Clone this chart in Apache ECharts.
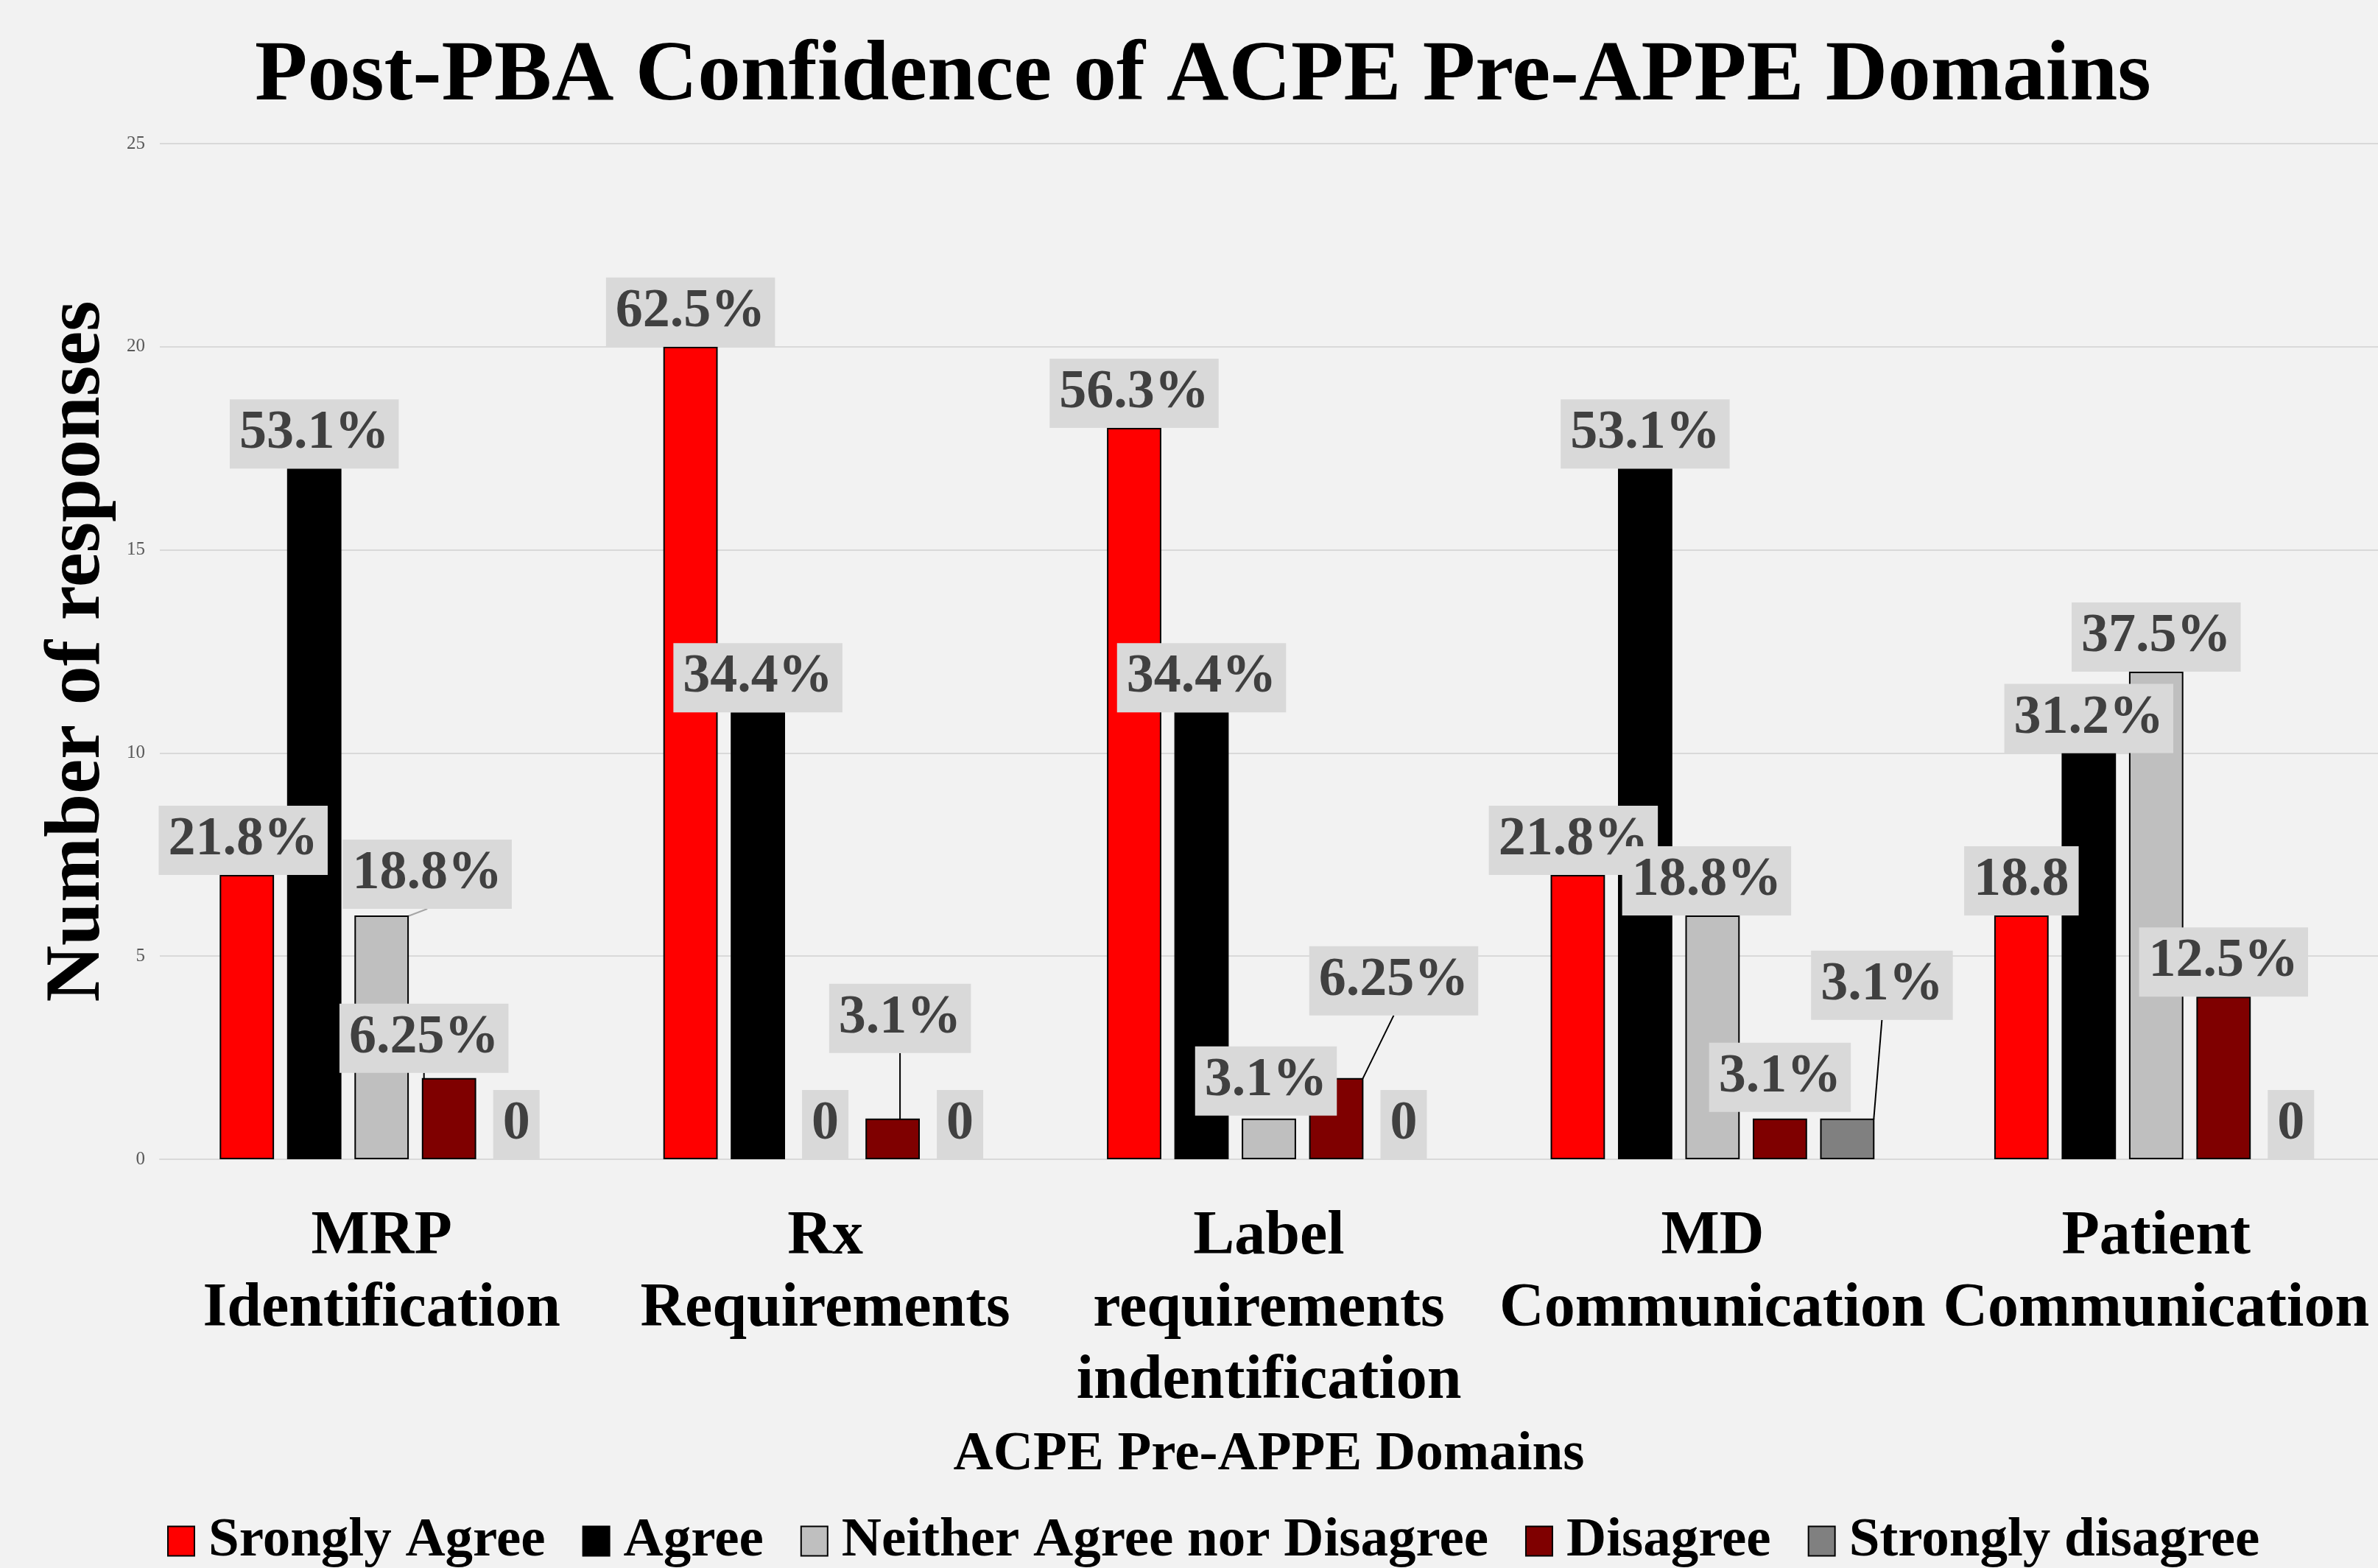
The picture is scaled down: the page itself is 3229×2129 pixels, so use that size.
<!DOCTYPE html>
<html>
<head>
<meta charset="utf-8">
<script src="https://cdn.jsdelivr.net/npm/echarts@6/dist/echarts.min.js"></script>
<style>
  html, body { margin: 0; padding: 0; background: #f2f2f2; }
  #main_chart { width: 3229px; height: 2129px; }
</style>
</head>
<body>
<div id="main_chart"></div>
<script>
// data
var categories = ['MRP\nIdentification', 'Rx\nRequirements', 'Label\nrequirements\nindentification', 'MD\nCommunication', 'Patient\nCommunication'];
var seriesNames = ['Srongly Agree', 'Agree', 'Neither Agree nor Disagree', 'Disagree', 'Strongly disagree'];
var stronglyAgree = [7, 20, 18, 7, 6];
var agree = [17, 11, 11, 17, 10];
var neither = [6, 0, 1, 6, 12];
var disagree = [2, 1, 2, 1, 4];
var stronglyDisagree = [0, 0, 0, 1, 0];
var stronglyAgreeLabels = ['21.8%', '62.5%', '56.3%', '21.8%', '18.8'];
var agreeLabels = ['53.1%', '34.4%', '34.4%', '53.1%', '31.2%'];
var neitherLabels = ['18.8%', '0', '3.1%', '18.8%', '37.5%'];
var disagreeLabels = ['6.25%', '3.1%', '6.25%', '3.1%', '12.5%'];
var stronglyDisagreeLabels = ['0', '0', '0', '3.1%', '0'];

var colors = ['#ff0000', '#000000', '#bfbfbf', '#7f0000', '#808080'];
var lineColors = ['#000', '#000', '#a6a6a6', '#000', '#000'];
var values = [stronglyAgree, agree, neither, disagree, stronglyDisagree];
var texts = [stronglyAgreeLabels, agreeLabels, neitherLabels, disagreeLabels, stronglyDisagreeLabels];

// callouts that were dragged away from their bars: [dx, dy, leader line]
var moved = {
  '0-0': [-5, 0], '0-3': [-6, 0],
  '2-0': [62, -9, true], '2-2': [-4, -4], '2-3': [-8, 0],
  '3-0': [-34, -7, true], '3-1': [10, -89, true], '3-2': [78, -85, true], '3-3': [0, -9],
  '4-3': [47, -134, true]
};

var font = '"Liberation Serif", "Times New Roman", serif';
var chart = echarts.init(document.getElementById('main_chart'));

var series = values.map(function (arr, s) {
  return {
    name: seriesNames[s],
    type: 'bar',
    barGap: '24%',
    barCategoryGap: '27%',
    itemStyle: { color: colors[s], borderColor: '#000', borderWidth: 2 },
    data: arr.map(function (v, i) {
      var m = moved[s + '-' + i];
      var item = { value: v, labelLine: { show: !!(m && m[2]) } };
      if (v === 0) item.itemStyle = { borderWidth: 0 };
      return item;
    }),
    label: {
      show: true,
      position: 'top',
      distance: 0,
      formatter: function (p) { return texts[p.seriesIndex][p.dataIndex]; },
      fontFamily: font,
      fontWeight: 'bold',
      fontSize: 74,
      lineHeight: 74,
      color: '#404040',
      backgroundColor: '#d9d9d9',
      padding: [10, 13]
    },
    labelLine: { lineStyle: { color: lineColors[s], width: 2 } },
    labelLayout: function (p) {
      var m = moved[p.seriesIndex + '-' + p.dataIndex];
      return m ? { dx: m[0], dy: m[1] } : {};
    }
  };
});

chart.setOption({
  backgroundColor: '#f2f2f2',
  animation: false,
  title: {
    text: 'Post-PBA Confidence of ACPE Pre-APPE Domains',
    left: 341,
    top: 41,
    textStyle: { fontFamily: font, fontWeight: 'bold', fontSize: 117, color: '#000' }
  },
  legend: {
    data: seriesNames,
    top: 2050,
    left: 222,
    icon: 'rect',
    itemWidth: 36,
    itemHeight: 40,
    itemGap: 50,
    textStyle: { fontFamily: font, fontWeight: 'bold', fontSize: 75, color: '#000', padding: [0, 0, 0, 14] }
  },
  grid: { left: 217, right: 0, top: 195, bottom: 555, containLabel: false },
  xAxis: {
    type: 'category',
    data: categories,
    name: 'ACPE Pre-APPE Domains',
    nameLocation: 'middle',
    nameGap: 364,
    nameTextStyle: { fontFamily: font, fontWeight: 'bold', fontSize: 75, color: '#000' },
    axisTick: { show: false },
    axisLine: { lineStyle: { color: '#d9d9d9', width: 2 } },
    axisLabel: {
      interval: 0,
      margin: 57,
      fontFamily: font,
      fontWeight: 'bold',
      fontSize: 84,
      lineHeight: 98,
      color: '#000'
    }
  },
  yAxis: {
    type: 'value',
    min: 0,
    max: 25,
    interval: 5,
    name: 'Number of responses',
    nameLocation: 'middle',
    nameRotate: 90,
    nameGap: 57,
    nameTextStyle: { fontFamily: font, fontWeight: 'bold', fontSize: 106, color: '#000' },
    axisLine: { show: false },
    axisTick: { show: false },
    axisLabel: { fontFamily: font, fontSize: 25, color: '#595959', margin: 20 },
    splitLine: { lineStyle: { color: '#d9d9d9', width: 2 } }
  },
  series: series
});
</script>
</body>
</html>
